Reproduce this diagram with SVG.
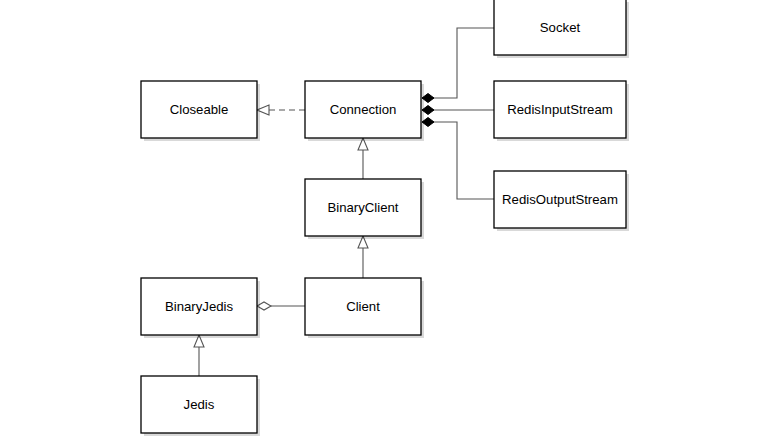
<svg xmlns="http://www.w3.org/2000/svg" width="758" height="440" viewBox="0 0 758 440">
<defs>
<style>
.box{fill:#fff;stroke:#000;stroke-width:1.3}
.sh{fill:#000;opacity:0.15}
.lbl{font-family:"Liberation Sans",Arial,sans-serif;font-size:13.2px;fill:#000;text-anchor:middle;dominant-baseline:central}
.ln{fill:none;stroke:#555;stroke-width:1.1}
</style>
<marker id="tri" viewBox="0 0 14 12" refX="13" refY="6" markerWidth="14" markerHeight="12" markerUnits="userSpaceOnUse" orient="auto">
<path d="M1,1 L13,6 L1,11 Z" fill="#fff" stroke="#555" stroke-width="1.1"/>
</marker>
<marker id="dia" viewBox="0 0 16 10" refX="15" refY="5" markerWidth="16" markerHeight="10" markerUnits="userSpaceOnUse" orient="auto">
<path d="M1,5 L8,1 L15,5 L8,9 Z" fill="#fff" stroke="#555" stroke-width="1.1"/>
</marker>
<marker id="cdia" viewBox="0 0 14 10" refX="13" refY="5" markerWidth="14" markerHeight="10" markerUnits="userSpaceOnUse" orient="auto">
<path d="M1,5 L7,0.5 L13,5 L7,9.5 Z" fill="#000" stroke="#000" stroke-width="1"/>
</marker>
</defs>
<rect width="758" height="440" fill="#fff"/>
<g id="connectors">
<path class="ln" d="M305,110 L257,110" stroke-dasharray="6,4" marker-end="url(#tri)"/>
<path class="ln" d="M494,28 L457,28 L457,98 L422,98" marker-end="url(#cdia)"/>
<path class="ln" d="M494,110 L422,110" marker-end="url(#cdia)"/>
<path class="ln" d="M494,199 L457,199 L457,122 L422,122" marker-end="url(#cdia)"/>
<path class="ln" d="M363,179 L363,138" marker-end="url(#tri)"/>
<path class="ln" d="M363,278 L363,236" marker-end="url(#tri)"/>
<path class="ln" d="M305,306 L257,306" marker-end="url(#dia)"/>
<path class="ln" d="M199,376 L199,335" marker-end="url(#tri)"/>
</g>
<g id="Closeable"><rect class="sh" x="144" y="84" width="116" height="57"/><rect class="box" x="141" y="81" width="116" height="57"/><text class="lbl" x="199" y="109.5">Closeable</text></g>
<g id="Connection"><rect class="sh" x="308" y="84" width="116" height="57"/><rect class="box" x="305" y="81" width="116" height="57"/><text class="lbl" x="363" y="109.5">Connection</text></g>
<g id="Socket"><rect class="sh" x="497" y="2" width="132" height="56"/><rect class="box" x="494" y="-1" width="132" height="56"/><text class="lbl" x="560" y="27">Socket</text></g>
<g id="RedisInputStream"><rect class="sh" x="497" y="84" width="132" height="57"/><rect class="box" x="494" y="81" width="132" height="57"/><text class="lbl" x="560" y="109.5">RedisInputStream</text></g>
<g id="RedisOutputStream"><rect class="sh" x="497" y="174" width="132" height="57"/><rect class="box" x="494" y="171" width="132" height="57"/><text class="lbl" x="560" y="199.5">RedisOutputStream</text></g>
<g id="BinaryClient"><rect class="sh" x="308" y="182" width="116" height="57"/><rect class="box" x="305" y="179" width="116" height="57"/><text class="lbl" x="363" y="207.5">BinaryClient</text></g>
<g id="Client"><rect class="sh" x="308" y="281" width="116" height="57"/><rect class="box" x="305" y="278" width="116" height="57"/><text class="lbl" x="363" y="306.5">Client</text></g>
<g id="BinaryJedis"><rect class="sh" x="144" y="281" width="116" height="57"/><rect class="box" x="141" y="278" width="116" height="57"/><text class="lbl" x="199" y="306.5">BinaryJedis</text></g>
<g id="Jedis"><rect class="sh" x="144" y="379" width="116" height="57"/><rect class="box" x="141" y="376" width="116" height="57"/><text class="lbl" x="199" y="404.5">Jedis</text></g>
</svg>
